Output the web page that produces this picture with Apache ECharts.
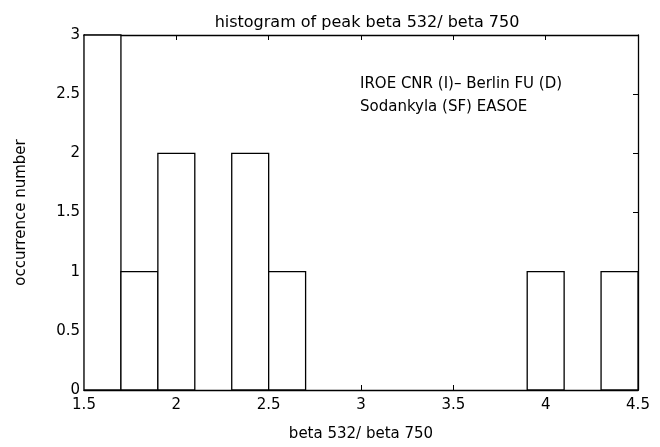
<!DOCTYPE html>
<html>
<head>
<meta charset="utf-8">
<script src="https://cdn.jsdelivr.net/npm/echarts@6/dist/echarts.min.js"></script>
<style>
  html, body { margin: 0; padding: 0; background: #fff; }
  #chart { width: 660px; height: 447px; }
</style>
</head>
<body>
<div id="chart"></div>
<script>
// histogram bins (width 0.2 from 1.5 to 4.5)
var binStart = [1.5, 1.7, 1.9, 2.1, 2.3, 2.5, 2.7, 2.9, 3.1, 3.3, 3.5, 3.7, 3.9, 4.1, 4.3];
var binWidth = 0.2;
var counts = [3, 1, 2, 0, 2, 1, 0, 0, 0, 0, 0, 0, 1, 0, 1];
var noteLines = ["IROE CNR (I)\u2013 Berlin FU (D)", "Sodankyla (SF) EASOE"];

var font = "DejaVu Sans";
var data = binStart.map(function (s, i) { return [s, s + binWidth, counts[i]]; });

var chart = echarts.init(document.getElementById("chart"));
var tickIn = { show: true, inside: true, length: 5, lineStyle: { color: "#000" } };
var axLine = { show: true, onZero: false, lineStyle: { color: "#000", width: 1.3 } };

chart.setOption({
  backgroundColor: "#fff",
  animation: false,
  title: {
    text: "histogram of peak beta 532/ beta 750",
    left: 362, top: 10, textAlign: "center",
    textStyle: { fontFamily: font, fontSize: 16, fontWeight: "normal", color: "#000" }
  },
  grid: { left: 84, right: 22, top: 35, bottom: 55 },
  xAxis: [{
    type: "value", min: 1.5, max: 4.5, interval: 0.5,
    name: "beta 532/ beta 750", nameLocation: "middle", nameGap: 37,
    nameTextStyle: { fontFamily: font, fontSize: 15, color: "#000" },
    axisLine: axLine, axisTick: tickIn, splitLine: { show: false },
    axisLabel: { fontFamily: font, fontSize: 15, color: "#000", margin: 8 }
  }, {
    type: "value", min: 1.5, max: 4.5, interval: 0.5, position: "top",
    axisLine: axLine, axisTick: tickIn, splitLine: { show: false },
    axisLabel: { show: false }
  }],
  yAxis: [{
    type: "value", min: 0, max: 3, interval: 0.5,
    name: "occurrence number", nameLocation: "middle", nameGap: 55,
    nameTextStyle: { fontFamily: font, fontSize: 15, color: "#000" },
    axisLine: axLine, axisTick: tickIn, splitLine: { show: false },
    axisLabel: { fontFamily: font, fontSize: 15, color: "#000", margin: 4 }
  }, {
    type: "value", min: 0, max: 3, interval: 0.5, position: "right",
    axisLine: axLine, axisTick: tickIn, splitLine: { show: false },
    axisLabel: { show: false }
  }],
  graphic: [{
    type: "text", left: 360, top: 73,
    style: { text: noteLines.join("\n"), fontFamily: font, fontSize: 15, lineHeight: 23, fill: "#000" }
  }],
  series: [{
    type: "custom",
    xAxisIndex: 0, yAxisIndex: 0,
    data: data,
    encode: { x: [0, 1], y: 2 },
    renderItem: function (params, api) {
      var p0 = api.coord([api.value(0), 0]);
      var p1 = api.coord([api.value(1), api.value(2)]);
      if (api.value(2) === 0) return null;
      return {
        type: "rect",
        shape: { x: p0[0], y: p1[1], width: p1[0] - p0[0], height: p0[1] - p1[1] },
        style: { fill: "#fff", stroke: "#000", lineWidth: 1.3 }
      };
    }
  }]
});
</script>
</body>
</html>
